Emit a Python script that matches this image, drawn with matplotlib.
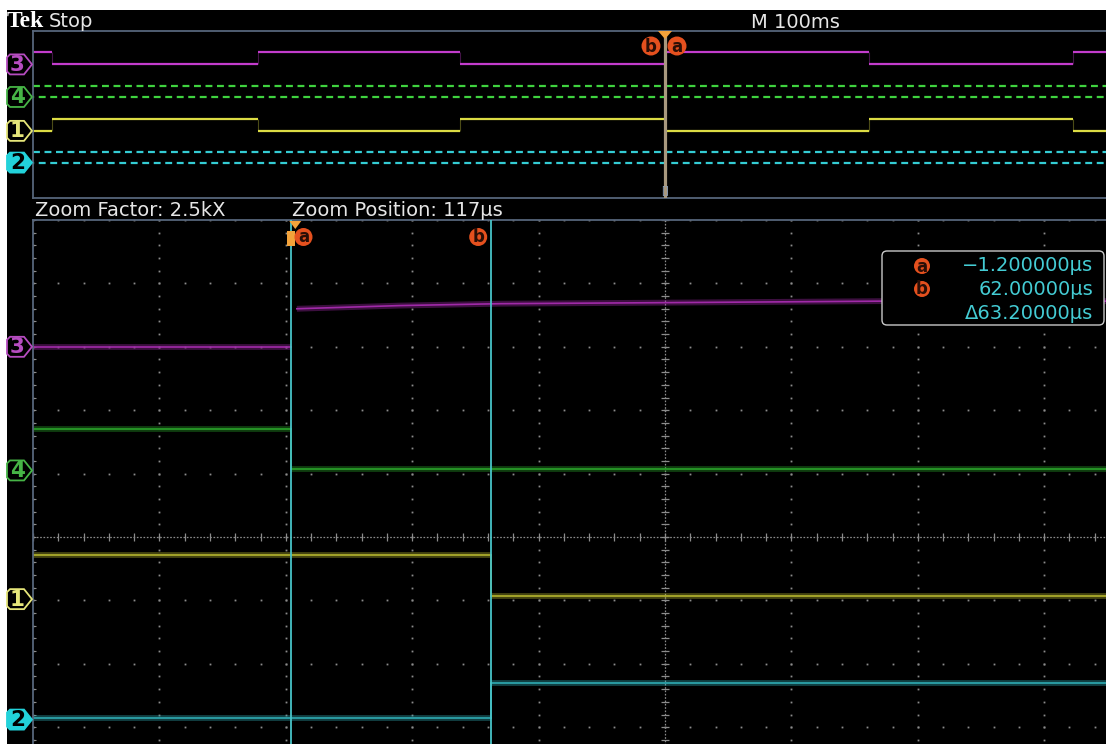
import numpy as np
import matplotlib
matplotlib.use("Agg")
import matplotlib.pyplot as plt
from matplotlib import patches, transforms

plt.rcParams["font.family"] = ["DejaVu Sans"]
plt.rcParams["lines.scale_dashes"] = False

W, H, DPI = 1106, 744, 100

# ---- acquisition settings -------------------------------------------------
main_ms_per_div = 100
zoom_factor_label = "2.5kX"
zoom_position_us = 117
zoom_us_per_div = 40
cursor_a_us = -1.2
cursor_b_us = 62.0

# channel ground markers (divisions from screen centre), top to bottom
ch_names = ["3", "4", "1", "2"]
ch_position = [3.0, 1.05, -0.98, -2.88]

# ---- main record, 100 ms/div ----------------------------------------------
main_edges_ms = [-485, -322, -162, 0, 161, 323]
ch3_main_states = [1, 0, 1, 0, 1, 0, 1]
ch1_main_states = [0, 1, 0, 1, 0, 1, 0]
ch3_main_high = 0.72
ch1_main_high = 0.72
ch4_main_high = 0.66
ch2_main_high = 0.66
fast_period_px = 11.5

# ---- zoomed record (divisions above each channel marker) ------------------
ch3_pre_us = [-83, -1.2]
ch3_pre_div = [0.0, 0.0]
ch3_post_us = [0.5, 33, 65, 128, 185, 317]
ch3_post_div = [0.60, 0.65, 0.68, 0.70, 0.72, 0.72]
ch4_zoom_levels = [0.66, 0.03]
ch1_zoom_levels = [0.70, 0.05]
ch2_zoom_levels = [0.03, 0.58]

readout_text = ["\u22121.200000\u00b5s", "62.00000\u00b5s", "\u039463.20000\u00b5s"]

# ---- colours ---------------------------------------------------------------
col_main = {"3": "#c23ccc", "4": "#3fd23f", "1": "#dcdc44", "2": "#34ccd4"}
col_zoom = {"3": "#a02aa8", "4": "#2aa22a", "1": "#b4b42e", "2": "#2eaab2"}
col_mark = {"3": "#b64cc0", "4": "#46b446", "1": "#e6e67a", "2": "#22d2da"}
frame_col = "#56657a"
grid_col = "#8c8c8c"
cursor_col = "#48c4c8"
orange = "#e4501e"
trig_col = "#f2a23a"
text_col = "#e6e6e6"
readout_col = "#44ccd4"

pos = dict(zip(ch_names, ch_position))

fig = plt.figure(figsize=(W / DPI, H / DPI), dpi=DPI, facecolor="white")
fig.patches.append(patches.Rectangle((7 / W, 0), 1, 1 - 10 / H, transform=fig.transFigure,
                                     facecolor="black", edgecolor="none", zorder=-5))
pixel = transforms.IdentityTransform()


def px_axes(left, top, width, height):
    ax = fig.add_axes([left / W, 1 - (top + height) / H, width / W, height / H])
    ax.set_facecolor("black")
    ax.set_xticks([])
    ax.set_yticks([])
    for s in ax.spines.values():
        s.set_color(frame_col)
        s.set_linewidth(1.3)
    return ax


def anchor(ax, x, y, xdata=True, ydata=False):
    """Pixel-offset transform anchored at (x, y) in data/axes coordinates."""
    base = transforms.blended_transform_factory(ax.transData if xdata else ax.transAxes,
                                                ax.transData if ydata else ax.transAxes)
    return transforms.Affine2D() + transforms.ScaledTranslation(x, y, base)


def label_circle(ax, tr, dx, dy, letter, r, fs):
    ax.add_patch(patches.Circle((dx, dy), r, transform=tr, facecolor=orange,
                                edgecolor="none", clip_on=False, zorder=20))
    ax.text(dx, dy - 0.5, letter, transform=tr, ha="center", va="center", fontsize=fs,
            color="#2a0e06", fontweight="bold", clip_on=False, zorder=21)


def channel_marker(ax, ch):
    tr = anchor(ax, 0, pos[ch], xdata=False, ydata=True)
    verts = [(-26, -7), (-23, -10), (-9, -10), (-1, 0), (-9, 10), (-23, 10), (-26, 7)]
    filled = ch == "2"
    ax.add_patch(patches.Polygon(verts, closed=True, transform=tr, clip_on=False,
                                 facecolor=col_mark[ch] if filled else "black",
                                 edgecolor=col_mark[ch], lw=1.3, zorder=15))
    ax.text(-15.5, -0.5, ch, transform=tr, ha="center", va="center", fontsize=15.5,
            fontweight="bold", color="black" if filled else col_mark[ch],
            clip_on=False, zorder=16)


# ===================== main (overview) window ==============================
axm = px_axes(33, 31, 1264, 167)
axm.set_xlim(-5 * main_ms_per_div, 5 * main_ms_per_div)
axm.set_ylim(-5, 5)
mx0, mx1 = axm.get_xlim()
bounds = [mx0] + main_edges_ms + [mx1]

for ch, states, hi in (("3", ch3_main_states, ch3_main_high),
                       ("1", ch1_main_states, ch1_main_high)):
    lv = [pos[ch] + hi * s for s in states]
    axm.hlines(lv, bounds[:-1], bounds[1:], color=col_main[ch], lw=1.6)
    axm.vlines(main_edges_ms, pos[ch], pos[ch] + hi, color=col_main[ch], lw=0.8, alpha=0.35)

on = 0.6 * fast_period_px * 0.72
off = 0.4 * fast_period_px * 0.72
for ch, hi in (("4", ch4_main_high), ("2", ch2_main_high)):
    axm.plot([mx0, mx1], [pos[ch] + hi] * 2, color=col_main[ch], lw=1.6,
             linestyle=(0, (on, off)), dash_capstyle="butt")
    axm.plot([mx0, mx1], [pos[ch]] * 2, color=col_main[ch], lw=1.6,
             linestyle=(0.5 * fast_period_px * 0.72, (on, off)), dash_capstyle="butt")

axm.axvline(cursor_a_us / 1000, color="#a8987e", lw=2.3, zorder=10)
trm = anchor(axm, cursor_a_us / 1000, 1.0)
axm.add_patch(patches.Polygon([(-7, 0), (7, 0), (0, -8)], closed=True, transform=trm,
                              facecolor=trig_col, edgecolor="none", zorder=22, clip_on=False))
label_circle(axm, trm, -14, -15, "b", 9.5, 12)
label_circle(axm, trm, 12, -15, "a", 9.5, 12)
axm.text(0, -159, "[]", transform=trm, ha="center", va="center", fontsize=7,
         color="#8ea0b8", zorder=23)

for ch in ch_names:
    channel_marker(axm, ch)

# ===================== zoom window =========================================
axz = px_axes(33, 220, 1264, 634)
zx0 = zoom_position_us - 5 * zoom_us_per_div
zx1 = zoom_position_us + 5 * zoom_us_per_div
axz.set_xlim(zx0, zx1)
axz.set_ylim(-5, 5)

minor_y = np.arange(-25, 26) / 5
minor_x = zx0 + zoom_us_per_div * np.arange(0, 51) / 5
for k in range(-5, 6):
    x = zoom_position_us + k * zoom_us_per_div
    if k != 0:
        axz.plot(np.full_like(minor_y, x), minor_y, ls="none", marker="s", ms=1.3,
                 mew=0, color=grid_col)
for y in range(-5, 6):
    if y != 0:
        axz.plot(minor_x, np.full_like(minor_x, y), ls="none", marker="s", ms=1.3,
                 mew=0, color=grid_col)
axz.axvline(zoom_position_us, color=grid_col, lw=0.9, ls=(0, (1.2, 1.2)))
axz.axhline(0, color=grid_col, lw=0.9, ls=(0, (1.2, 1.2)))
axz.plot(np.full_like(minor_y, zoom_position_us), minor_y, ls="none", marker="_",
         ms=6, mew=0.9, color=grid_col)
axz.plot(minor_x, np.zeros_like(minor_x), ls="none", marker="|", ms=6, mew=0.9, color=grid_col)
axz.plot(np.full_like(minor_y, zx0), minor_y, ls="none", marker="_", ms=4, mew=0.8,
         color=grid_col)


def trace(t, v, ch):
    y = pos[ch] + np.asarray(v, dtype=float)
    # soft band standing in for the acquisition noise around the level
    axz.plot(t, y, color=col_zoom[ch], lw=4.2, alpha=0.38, solid_capstyle="butt")
    axz.plot(t, y, color=col_zoom[ch], lw=1.2)


trace(ch3_pre_us, ch3_pre_div, "3")
trace(ch3_post_us, ch3_post_div, "3")
for ch, levels, edge in (("4", ch4_zoom_levels, cursor_a_us),
                         ("1", ch1_zoom_levels, cursor_b_us),
                         ("2", ch2_zoom_levels, cursor_b_us)):
    trace([zx0, edge], [levels[0]] * 2, ch)
    trace([edge, zx1], [levels[1]] * 2, ch)
    axz.plot([edge, edge], [pos[ch] + levels[0], pos[ch] + levels[1]],
             color=col_zoom[ch], lw=1.1)

for c in (cursor_a_us, cursor_b_us):
    axz.axvline(c, color=cursor_col, lw=1.3, zorder=12)

tra = anchor(axz, cursor_a_us, 1.0)
trb = anchor(axz, cursor_b_us, 1.0)
tr0 = anchor(axz, 0.0, 1.0)
axz.add_patch(patches.Polygon([(-6, -1), (6, -1), (0, -9)], closed=True, transform=tr0,
                              facecolor=trig_col, edgecolor="none", zorder=22, clip_on=False))
axz.add_patch(patches.Rectangle((-4, -26), 8, 15, transform=tra, facecolor=trig_col,
                                edgecolor="none", zorder=19))
label_circle(axz, tra, 12, -17, "a", 9, 12)
label_circle(axz, trb, -13, -17, "b", 9, 12)

# cursor readout box (pixel coordinates, origin bottom-left)
fig.patches.append(patches.FancyBboxPatch((882, H - 325), 222, 74,
                                          boxstyle="round,pad=0,rounding_size=5",
                                          transform=pixel, facecolor="black",
                                          edgecolor="#c8c8c8", lw=1.0, zorder=30))
for txt, base in zip(readout_text, [271, 295, 319]):
    fig.text(1093, H - base, txt, transform=pixel, ha="right", va="baseline",
             fontsize=14, color=readout_col, zorder=31)
for letter, cy in (("a", 266), ("b", 289)):
    fig.patches.append(patches.Circle((922, H - cy), 8, transform=pixel,
                                      facecolor=orange, edgecolor="none", zorder=31))
    fig.text(922, H - cy - 0.5, letter, transform=pixel, ha="center", va="center",
             fontsize=12, fontweight="bold", color="#2a0e06", zorder=32)

for ch in ch_names:
    channel_marker(axz, ch)

# ===================== header text =========================================
fig.text(7, H - 27, "Tek", transform=pixel, family="Liberation Serif", fontweight="bold",
         fontsize=17, color="white", va="baseline")
fig.text(49, H - 27, "Stop", transform=pixel, fontsize=14, color=text_col, va="baseline")
fig.text(795, H - 28, f"M {main_ms_per_div}ms", transform=pixel, fontsize=14,
         color=text_col, ha="center", va="baseline")
fig.text(35, H - 216, f"Zoom Factor: {zoom_factor_label}", transform=pixel, fontsize=14,
         color=text_col, va="baseline")
fig.text(292, H - 216, f"Zoom Position: {zoom_position_us}\u00b5s", transform=pixel,
         fontsize=14, color=text_col, va="baseline")

fig.savefig("out.png", dpi=DPI, facecolor=fig.get_facecolor())
